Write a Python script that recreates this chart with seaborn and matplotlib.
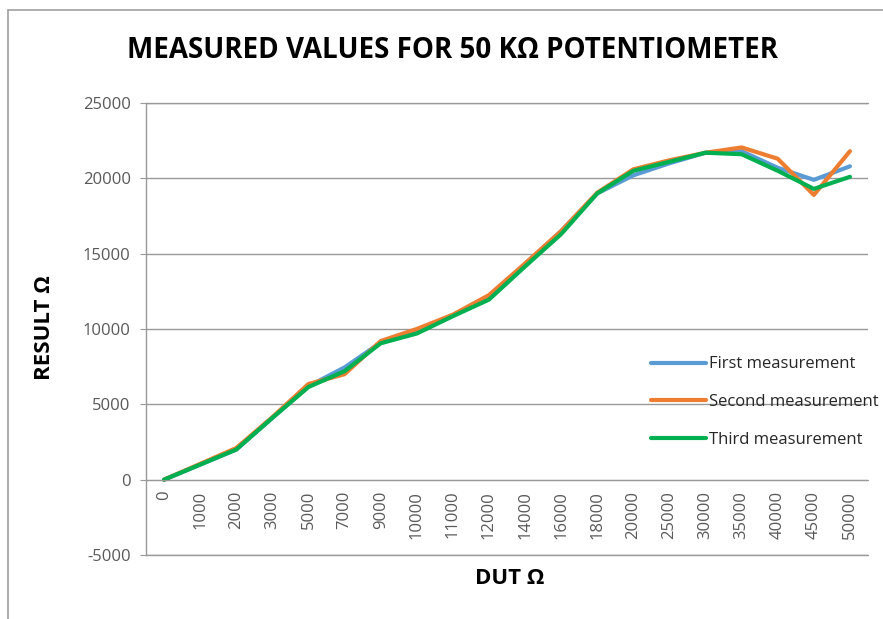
import pandas as pd
import numpy as np
import seaborn as sns
import matplotlib.pyplot as plt
from matplotlib.lines import Line2D

# DUT resistance settings (category axis)
dut = ["0", "1000", "2000", "3000", "5000", "7000", "9000", "10000", "11000", "12000",
       "14000", "16000", "18000", "20000", "25000", "30000", "35000", "40000", "45000", "50000"]

first = [0, 1000, 2000, 4100, 6200, 7450, 9100, 9900, 10900, 12100,
         14300, 16500, 19000, 20200, 21000, 21700, 21800, 20700, 19900, 20800]
second = [0, 1050, 2100, 4150, 6350, 7000, 9200, 10000, 10950, 12250,
          14350, 16500, 19050, 20600, 21200, 21700, 22050, 21300, 18900, 21800]
third = [0, 1000, 2000, 4100, 6150, 7200, 9050, 9700, 10850, 11950,
         14150, 16300, 19000, 20500, 21100, 21700, 21600, 20500, 19300, 20100]

series = ["First measurement", "Second measurement", "Third measurement"]
colors = ["#5B9BD5", "#ED7D31", "#00B050"]

data = pd.DataFrame({
    "DUT": dut * 3,
    "Result": first + second + third,
    "Series": np.repeat(series, len(dut)),
})

sns.set_style("white")
plt.rcParams['font.family'] = ['Open Sans', 'DejaVu Sans']
plt.rcParams['axes.unicode_minus'] = False

fig = plt.figure(figsize=(8.83, 6.19), dpi=100)
ax = fig.add_axes([146 / 883, 1 - 555 / 619, (868 - 146) / 883, (555 - 103) / 619])

sns.lineplot(data=data, x="DUT", y="Result", hue="Series", palette=colors,
             sort=False, linewidth=3, legend=False, ax=ax)

ax.set_ylim(-5000, 25000)
ax.set_xlim(-0.5, len(dut) - 0.5)
ax.set_yticks(range(-5000, 25001, 5000))
ax.yaxis.grid(True, color="#999999", linewidth=1)
ax.set_axisbelow(True)
# top and bottom gridlines sit on the axes edge, draw them unclipped
for yv in [-5000, 25000]:
    ax.axhline(yv, color="#999999", linewidth=1, clip_on=False, zorder=0.5)

# x axis crosses at zero like the original
for s in ["top", "right"]:
    ax.spines[s].set_visible(False)
ax.spines["bottom"].set_position(("data", 0))
ax.spines["bottom"].set_color("#999999")
ax.spines["left"].set_color("#999999")
ax.spines["left"].set_linewidth(1)

ax.tick_params(axis="y", direction="out", length=4, color="#999999", labelsize=12,
               labelcolor="#595959", pad=7, left=True)
ax.tick_params(axis="x", length=0, labelsize=12, labelcolor="#595959", pad=8)
plt.setp(ax.get_xticklabels(), rotation=90, va="top", ha="center")

ax.set_xlabel("")
ax.set_ylabel("")
fig.text(510 / 883, 1 - 578 / 619, "DUT Ω", ha="center", va="center",
         fontsize=16, fontweight="bold", color="black")
fig.text(45 / 883, 1 - 328 / 619, "RESULT Ω", ha="center", va="center",
         rotation=90, fontsize=16, fontweight="bold", color="black")
fig.text(452 / 883, 1 - 50 / 619, "MEASURED VALUES FOR 50 KΩ POTENTIOMETER",
         ha="center", va="center", fontsize=20, fontweight="bold", color="black")

handles = [Line2D([0], [0], color=c, lw=3) for c in colors]
leg = ax.legend(handles, series, loc="center left", bbox_to_anchor=(651 / 883, 1 - 402 / 619),
                bbox_transform=fig.transFigure, frameon=False, fontsize=12,
                handlelength=3.3, handletextpad=0.2, labelspacing=1.3, borderpad=0,
                borderaxespad=0)
for t in leg.get_texts():
    t.set_color("#262626")

# chart border
fig.add_artist(Line2D([8 / 883, 1], [1 - 10 / 619] * 2, color="#A0A0A0", lw=1.2))
fig.add_artist(Line2D([8 / 883] * 2, [0, 1 - 10 / 619], color="#A0A0A0", lw=1.2))

fig.savefig("out.png", dpi=100)
